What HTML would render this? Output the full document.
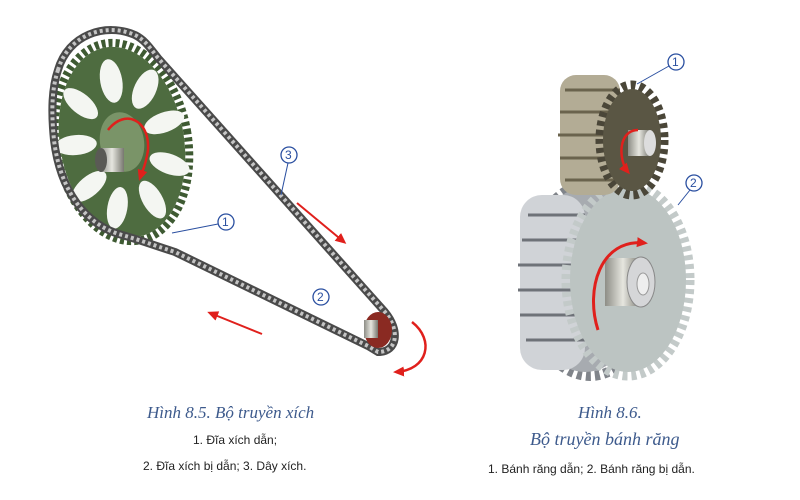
<!DOCTYPE html>
<html><head><meta charset="utf-8"><style>
html,body{margin:0;padding:0;background:#fff;width:800px;height:500px;overflow:hidden}
svg{display:block}
.cap{font-family:"Liberation Serif",serif;font-style:italic;fill:#3d5a8c}
.sm{font-family:"Liberation Sans",sans-serif;fill:#222;font-size:12px}
.lbl{font-family:"Liberation Sans",sans-serif;fill:#2a4fa0;font-size:12px}
</style></head><body>
<svg width="800" height="500" viewBox="0 0 800 500" xmlns="http://www.w3.org/2000/svg">
<defs>
<marker id="ah" markerUnits="userSpaceOnUse" markerWidth="12" markerHeight="12" refX="8" refY="6" orient="auto"><path d="M0,1 L11,6 L0,11 z" fill="#e0201c"/></marker>
<linearGradient id="gg" x1="0" x2="1"><stop offset="0" stop-color="#8d8d86"/><stop offset=".5" stop-color="#e6e6df"/><stop offset="1" stop-color="#77776f"/></linearGradient>
</defs>
<!-- big sprocket -->
<g transform="translate(122,142) rotate(-10)">
<ellipse rx="66" ry="100" fill="none" stroke="#3e5a32" stroke-width="8" stroke-dasharray="4 3"/>
<ellipse rx="62" ry="96" fill="#4e6c40"/>
<g fill="#f4f6f2">
<ellipse cx="0" cy="-62" rx="11" ry="22"/><ellipse cx="32" cy="-48" rx="11" ry="21" transform="rotate(35 32 -48)"/>
<ellipse cx="45" cy="-12" rx="10" ry="21" transform="rotate(80 45 -12)"/><ellipse cx="43" cy="30" rx="10" ry="21" transform="rotate(120 43 30)"/>
<ellipse cx="20" cy="62" rx="10" ry="21" transform="rotate(160 20 62)"/><ellipse cx="-16" cy="64" rx="10" ry="21" transform="rotate(20 -16 64)"/>
<ellipse cx="-40" cy="38" rx="10" ry="21" transform="rotate(60 -40 38)"/><ellipse cx="-46" cy="-5" rx="10" ry="21" transform="rotate(95 -46 -5)"/>
<ellipse cx="-34" cy="-45" rx="10" ry="21" transform="rotate(140 -34 -45)"/>
</g>
<ellipse rx="22" ry="30" fill="#7a9468"/>
</g>
<!-- chain -->
<path d="M58,70 C68,35 105,22 135,35 C145,40 150,48 158,58 L385,312 C400,330 398,352 378,352 L368,346 L175,252 C150,244 140,240 122,235 C85,225 60,190 54,140 C51,110 52,88 58,70 Z" fill="none" stroke="#4a4a4a" stroke-width="8"/>
<path d="M58,70 C68,35 105,22 135,35 C145,40 150,48 158,58 L385,312 C400,330 398,352 378,352 L368,346 L175,252 C150,244 140,240 122,235 C85,225 60,190 54,140 C51,110 52,88 58,70 Z" fill="none" stroke="#c4c4c4" stroke-width="4" stroke-dasharray="3 3"/>
<rect x="100" y="148" width="24" height="24" fill="url(#gg)"/><ellipse cx="101" cy="160" rx="6" ry="12" fill="#5a5a55"/>
<path d="M108,130 C125,108 150,120 148,150 C146,165 142,172 140,178" fill="none" stroke="#e0201c" stroke-width="2.5" marker-end="url(#ah)"/>
<!-- small sprocket -->
<ellipse cx="378" cy="330" rx="14" ry="18" fill="#8a2a22"/>
<rect x="364" y="320" width="14" height="18" fill="url(#gg)"/>
<path d="M412,322 C435,340 428,370 396,372" fill="none" stroke="#e0201c" stroke-width="2.5" marker-end="url(#ah)"/>
<!-- straight arrows -->
<line x1="297" y1="203" x2="344" y2="242" stroke="#e0201c" stroke-width="2" marker-end="url(#ah)"/>
<line x1="262" y1="334" x2="210" y2="313" stroke="#e0201c" stroke-width="2" marker-end="url(#ah)"/>
<!-- labels chain -->
<g fill="#fff" stroke="#2a4fa0" stroke-width="1.3"><circle cx="226" cy="222" r="8"/><circle cx="289" cy="155" r="8"/><circle cx="321" cy="297" r="8"/></g>
<line x1="218" y1="224" x2="172" y2="233" stroke="#2a4fa0"/><line x1="288" y1="163" x2="281" y2="195" stroke="#2a4fa0"/>
<text class="lbl" x="222" y="226">1</text><text class="lbl" x="285" y="159">3</text><text class="lbl" x="317" y="301">2</text>
<!-- big gear -->
<ellipse cx="590" cy="280" rx="64" ry="96" fill="none" stroke="#80848a" stroke-width="10" stroke-dasharray="5 4"/>
<ellipse cx="585" cy="280" rx="60" ry="92" fill="#a7abb0"/>
<rect x="520" y="195" width="65" height="175" rx="22" fill="#d0d3d7"/>
<g stroke="#6e7278" stroke-width="3"><line x1="528" y1="215" x2="585" y2="215"/><line x1="522" y1="240" x2="585" y2="240"/><line x1="518" y1="265" x2="585" y2="265"/><line x1="518" y1="290" x2="585" y2="290"/><line x1="520" y1="315" x2="585" y2="315"/><line x1="526" y1="340" x2="585" y2="340"/></g>
<ellipse cx="628" cy="280" rx="62" ry="96" fill="none" stroke="#c3cac9" stroke-width="9" stroke-dasharray="5 4"/>
<ellipse cx="628" cy="280" rx="58" ry="92" fill="#bcc4c2"/>
<rect x="605" y="258" width="36" height="48" fill="url(#gg)"/><ellipse cx="641" cy="282" rx="14" ry="25" fill="#d5d6d8" stroke="#888"/><ellipse cx="643" cy="284" rx="6" ry="11" fill="#eee" stroke="#999"/>
<path d="M598,330 C585,290 600,238 645,243" fill="none" stroke="#e0201c" stroke-width="3" marker-end="url(#ah)"/>
<!-- small gear -->
<rect x="560" y="75" width="60" height="120" rx="16" fill="#b3ac95"/>
<g stroke="#6a634d" stroke-width="3"><line x1="565" y1="90" x2="620" y2="90"/><line x1="560" y1="112" x2="620" y2="112"/><line x1="558" y1="135" x2="620" y2="135"/><line x1="560" y1="158" x2="620" y2="158"/><line x1="565" y1="180" x2="620" y2="180"/></g>
<ellipse cx="632" cy="140" rx="32" ry="55" fill="none" stroke="#4a4638" stroke-width="9" stroke-dasharray="5 4"/>
<ellipse cx="632" cy="140" rx="29" ry="51" fill="#5a5644"/>
<rect x="628" y="130" width="22" height="26" fill="url(#gg)"/><ellipse cx="650" cy="143" rx="6" ry="13" fill="#ddd"/>
<path d="M638,130 C618,130 618,160 628,172" fill="none" stroke="#e0201c" stroke-width="2.5" marker-end="url(#ah)"/>
<g fill="#fff" stroke="#2a4fa0" stroke-width="1.3"><circle cx="676" cy="62" r="8"/><circle cx="694" cy="183" r="8"/></g>
<line x1="669" y1="66" x2="637" y2="84" stroke="#2a4fa0"/><line x1="690" y1="190" x2="678" y2="205" stroke="#2a4fa0"/>
<text class="lbl" x="672" y="66">1</text><text class="lbl" x="690" y="187">2</text>
<!-- captions -->
<text class="cap" x="147" y="418" font-size="17">Hình 8.5. Bộ truyền xích</text>
<text class="sm" x="193" y="444">1. Đĩa xích dẫn;</text>
<text class="sm" x="143" y="470">2. Đĩa xích bị dẫn; 3. Dây xích.</text>
<text class="cap" x="578" y="418" font-size="17">Hình 8.6.</text>
<text class="cap" x="530" y="445" font-size="18">Bộ truyền bánh răng</text>
<text class="sm" x="488" y="473">1. Bánh răng dẫn; 2. Bánh răng bị dẫn.</text>
</svg>
</body></html>
